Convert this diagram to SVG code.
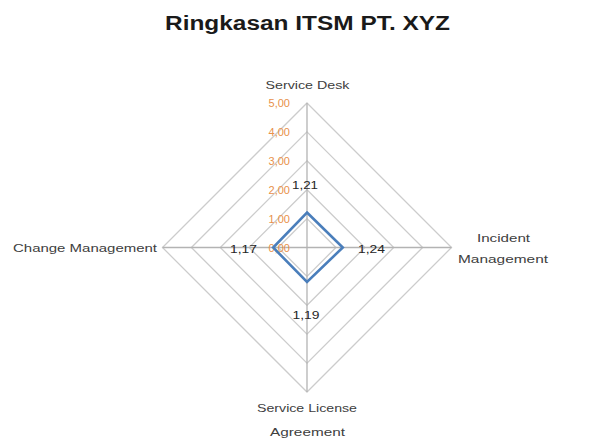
<svg xmlns="http://www.w3.org/2000/svg" width="601" height="444" viewBox="0 0 601 444">
<style>
.grid{fill:none;stroke:#cccccc;stroke-width:1.3}
.axis{stroke:#b3b3b3;stroke-width:1.3}
.lbl{font-family:"Liberation Sans",Arial,sans-serif;font-size:11px;fill:#404040;text-anchor:middle}
.scale{font-family:"Liberation Sans",Arial,sans-serif;font-size:11px;fill:#e8914a;text-anchor:end}
.val{font-family:"Liberation Sans",Arial,sans-serif;font-size:11px;fill:#262626;text-anchor:middle}
</style>
<rect width="601" height="444" fill="#ffffff"/>
<text id="title" x="307.5" y="30" font-family="Liberation Sans, Arial, sans-serif" font-size="20" font-weight="bold" fill="#1a1a1a" text-anchor="middle" textLength="285" lengthAdjust="spacingAndGlyphs">Ringkasan ITSM PT. XYZ</text>
<g id="grid">
<polygon class="grid" points="307,218.6 335.9,247.5 307,276.4 278.1,247.5"/>
<polygon class="grid" points="307,189.7 364.8,247.5 307,305.3 249.2,247.5"/>
<polygon class="grid" points="307,160.8 393.7,247.5 307,334.2 220.3,247.5"/>
<polygon class="grid" points="307,131.9 422.6,247.5 307,363.1 191.4,247.5"/>
<polygon class="grid" points="307,103 451.5,247.5 307,392 162.5,247.5"/>
</g>
<g id="axes">
<line class="axis" x1="307" y1="103" x2="307" y2="392"/>
<line class="axis" x1="162.5" y1="247.5" x2="451.5" y2="247.5"/>
</g>
<g id="scale">
<text class="scale" x="290" y="107">5,00</text>
<text class="scale" x="290" y="136">4,00</text>
<text class="scale" x="290" y="165">3,00</text>
<text class="scale" x="290" y="194">2,00</text>
<text class="scale" x="290" y="223">1,00</text>
<text class="scale" x="290" y="252">0,00</text>
</g>
<g id="series">
<polygon points="307,212.5 342.8,247.5 307,281.9 273.2,247.5" fill="none" stroke="#4a7ebb" stroke-width="2.6" stroke-linejoin="miter"/>
</g>
<g id="values">
<text class="val" x="305" y="189" textLength="26" lengthAdjust="spacingAndGlyphs">1,21</text>
<text class="val" x="371.5" y="253" textLength="27" lengthAdjust="spacingAndGlyphs">1,24</text>
<text class="val" x="306" y="319" textLength="27" lengthAdjust="spacingAndGlyphs">1,19</text>
<text class="val" x="243.5" y="253" textLength="27" lengthAdjust="spacingAndGlyphs">1,17</text>
</g>
<g id="node-service-desk">
<text class="lbl" x="307.5" y="89" textLength="84" lengthAdjust="spacingAndGlyphs">Service Desk</text>
</g>
<g id="node-incident-management">
<text class="lbl" x="503.5" y="242" textLength="53" lengthAdjust="spacingAndGlyphs">Incident</text>
<text class="lbl" x="503" y="263" textLength="90" lengthAdjust="spacingAndGlyphs">Management</text>
</g>
<g id="node-service-license-agreement">
<text class="lbl" x="307" y="412" textLength="100" lengthAdjust="spacingAndGlyphs">Service License</text>
<text class="lbl" x="307.5" y="436" textLength="75" lengthAdjust="spacingAndGlyphs">Agreement</text>
</g>
<g id="node-change-management">
<text class="lbl" x="85" y="252" textLength="144" lengthAdjust="spacingAndGlyphs">Change Management</text>
</g>
</svg>
